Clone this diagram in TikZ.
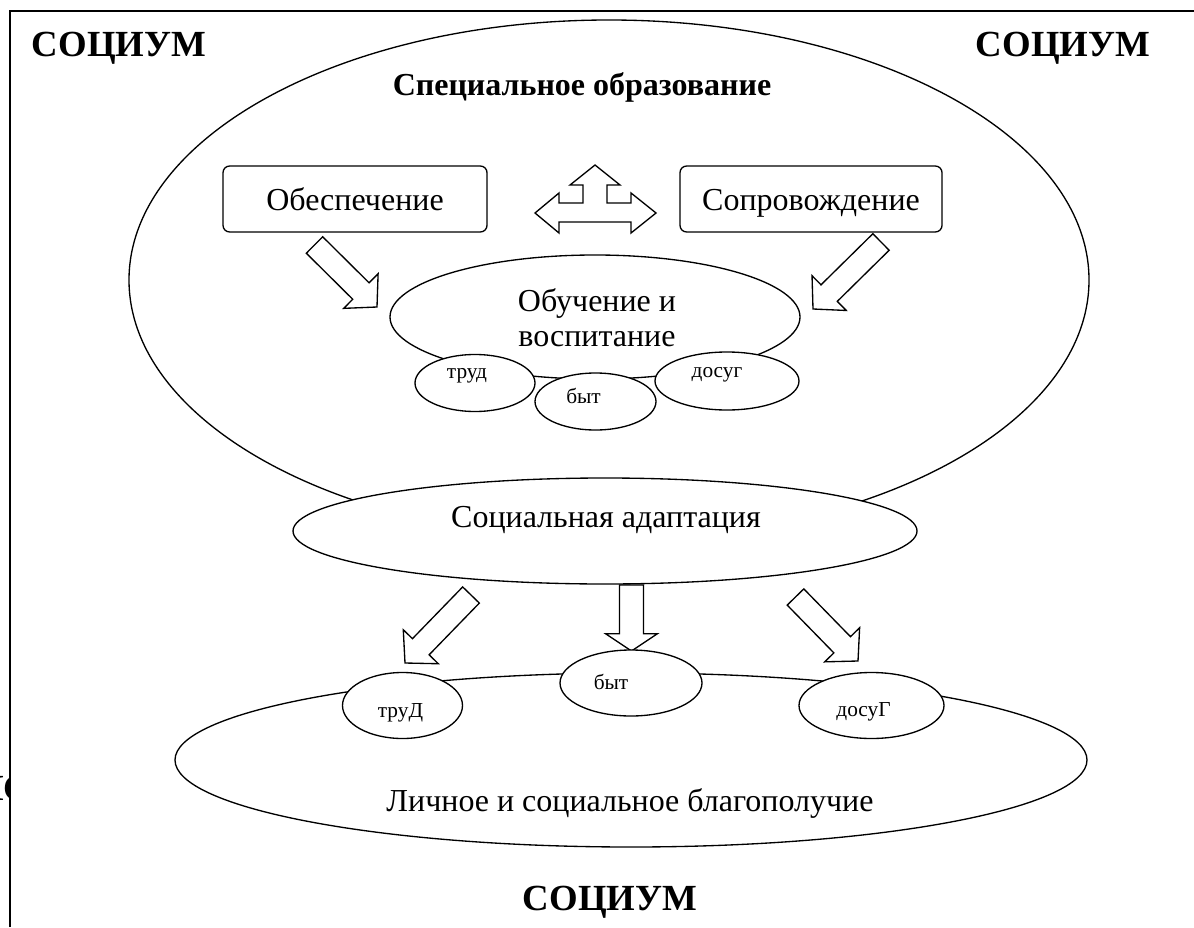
\documentclass[tikz,border=0pt]{standalone}
\usepackage{fontspec}
\setmainfont{Liberation Serif}
\usetikzlibrary{shapes.geometric,calc}

\newcommand\BlockArr[5]{%
  \coordinate (#2-base) at ($(#2)!#5!(#1)$);
  \draw[blockarr] ($(#1)!#3!90:(#2)$) -- ($(#2-base)!#3!90:(#2)$) -- ($(#2-base)!#4!90:(#2)$) -- (#2) -- ($(#2-base)!#4!-90:(#2)$) -- ($(#2-base)!#3!-90:(#2)$) -- ($(#1)!#3!-90:(#2)$) -- cycle;}

\tikzset{
  frame/.style={line width=1.5pt},
  ell/.style={ellipse, draw, line width=1pt, inner sep=0pt, fill=white},
  roundbox/.style={draw, line width=1pt, rounded corners=5pt, inner sep=0pt, fill=white},
  blockarr/.style={draw, line width=1pt, fill=white, line join=miter},
  bigtxt/.style={font=\fontsize{24pt}{26.5pt}\selectfont, inner sep=0pt, align=center},
  smalltxt/.style={font=\fontsize{16pt}{19pt}\selectfont, inner sep=0pt},
  titletxt/.style={font=\bfseries\fontsize{27.6pt}{32pt}\selectfont, inner sep=0pt},
  subtitletxt/.style={font=\bfseries\fontsize{24pt}{28pt}\selectfont, inner sep=0pt},
}

\begin{document}
\begin{tikzpicture}[x=0.75pt,y=-0.75pt]
\useasboundingbox (0,0) rectangle (1194,927);

% frame
\draw[frame] (10,927) -- (10,11) -- (1194,11);

% clipped fragment at left edge
\begin{scope}
  \clip (0,760) rectangle (9.5,815);
  \node[titletxt, anchor=base west] (frag) at (-25,800) {ИС};
\end{scope}

% titles
\node[titletxt, anchor=base] (soc1) at (119,57) {СОЦИУМ};
\node[titletxt, anchor=base] (soc2) at (1063,57) {СОЦИУМ};
\node[titletxt, anchor=base] (soc3) at (610,910) {СОЦИУМ};

% big ellipse
\node[ellipse, draw, line width=1pt, inner sep=0pt, minimum width=720pt, minimum height=390pt] (spec) at (609,280) {};
\node[subtitletxt, anchor=base] (spect) at (582,96) {Специальное образование};

% boxes
\node[roundbox, minimum width=198pt, minimum height=49.5pt] (obesp) at (355,199) {};
\node[bigtxt, anchor=base] (obespt) at (355,210) {Обеспечение};
\node[roundbox, minimum width=196.5pt, minimum height=49.5pt] (sopr) at (811,199) {};
\node[bigtxt, anchor=base] (soprt) at (811,210) {Сопровождение};

% three-way arrow
\draw[blockarr] (535,213) -- (559,193) -- (559,203) -- (583,203) -- (583,185) -- (570,185) -- (595,165) -- (620,185) -- (607,185) -- (607,203) -- (631,203) -- (631,193) -- (656,213) -- (631,233) -- (631,222) -- (559,222) -- (559,233) -- cycle;

% diagonal arrows to learning
\coordinate (a1s) at (314.5,245); \coordinate (a1t) at (377,307);
\coordinate (a2s) at (881,242);   \coordinate (a2t) at (813,309);
\BlockArr{a1s}{a1t}{8.7pt}{18.3pt}{17pt}
\BlockArr{a2s}{a2t}{8.7pt}{18.3pt}{17pt}

% learning ellipse
\node[ell, minimum width=307.5pt, minimum height=93pt] (learn) at (595,317) {};
\node[bigtxt] (learnt) at (597,318) {Обучение и\\воспитание};

% small ellipses
\node[ell, minimum width=90pt, minimum height=42.75pt] (trud) at (475,383) {};
\node[smalltxt] (trudt) at ($(trud)+(-8,-7)$) {труд};
\node[ell, minimum width=90.75pt, minimum height=42.75pt] (byt) at (595.5,401.5) {};
\node[smalltxt] (bytt) at ($(byt)+(-12,-6)$) {быт};
\node[ell, minimum width=108pt, minimum height=43.5pt] (dosug) at (727,381) {};
\node[smalltxt] (dosugt) at ($(dosug)+(-10,-6)$) {досуг};

% adaptation
\node[ell, minimum width=468pt, minimum height=79.5pt] (adapt) at (605,531) {};
\node[bigtxt] (adaptt) at (606,520) {Социальная адаптация};

% arrows down
\coordinate (a3s) at (471,595);   \coordinate (a3t) at (405,663);
\coordinate (a4s) at (631.5,585); \coordinate (a4t) at (631.5,651);
\coordinate (a5s) at (795.5,597); \coordinate (a5t) at (858,661);
\BlockArr{a3s}{a3t}{8.7pt}{18.3pt}{17pt}
\BlockArr{a4s}{a4t}{9pt}{19.5pt}{13pt}
\BlockArr{a5s}{a5t}{8.7pt}{18.3pt}{17pt}

% well-being ellipse
\node[ell, minimum width=684pt, minimum height=130.5pt] (well) at (631,760) {};
\node[bigtxt] (wellt) at (630,803) {Личное и социальное благополучие};

\node[ell, minimum width=90pt, minimum height=49.5pt] (trud2) at (402.5,705.5) {};
\node[smalltxt] (trud2t) at ($(trud2)+(-2,7)$) {труД};
\node[ell, minimum width=106.5pt, minimum height=49.5pt] (byt2) at (631,683) {};
\node[smalltxt] (byt2t) at ($(byt2)+(-20,-1)$) {быт};
\node[ell, minimum width=108.75pt, minimum height=49.5pt] (dosug2) at (871.5,705.5) {};
\node[smalltxt] (dosug2t) at ($(dosug2)+(-8,6)$) {досуГ};
\end{tikzpicture}
\end{document}
